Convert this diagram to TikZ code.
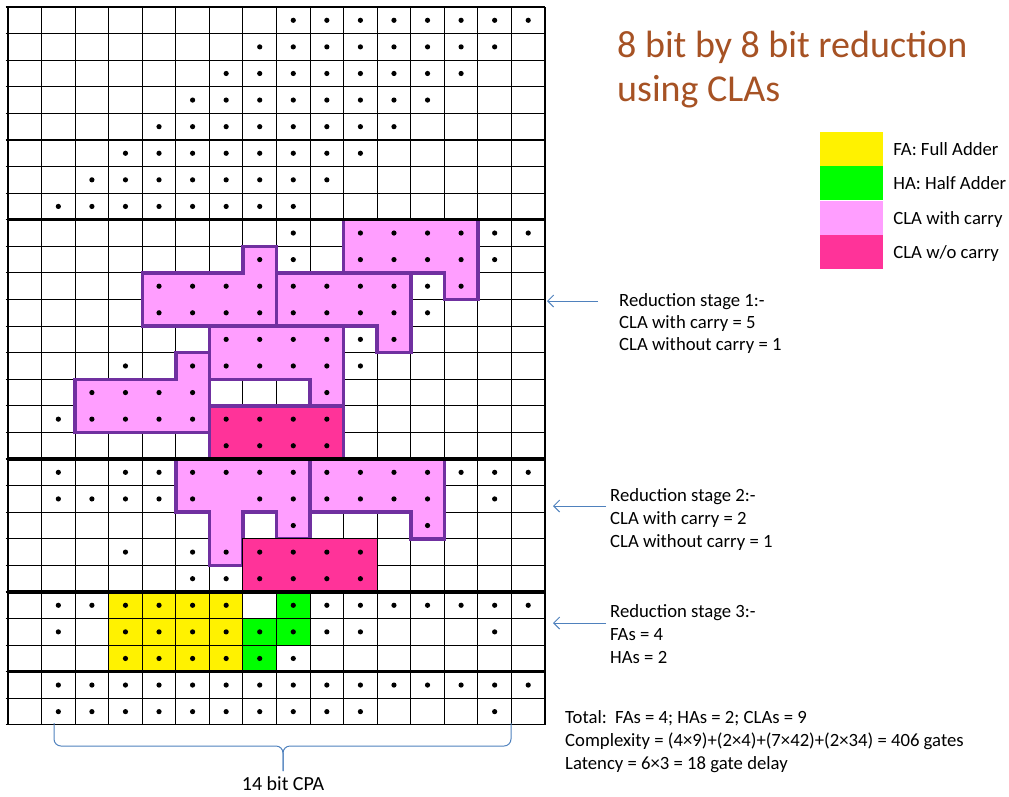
\documentclass[tikz,border=0pt]{standalone}
\usepackage{fontspec}
\setmainfont{Carlito}
\usetikzlibrary{arrows.meta, positioning}
\definecolor{claCarry}{RGB}{255,158,255}
\definecolor{claNoCarry}{RGB}{255,51,153}
\definecolor{claEdge}{RGB}{112,48,160}
\definecolor{titleBrown}{RGB}{166,82,36}
\definecolor{arrowBlue}{RGB}{79,129,189}
\tikzset{
  gridline/.style={line width=1.1pt},
  stageline/.style={line width=3.2pt},
  withcarry/.style={fill=claCarry, draw=claEdge, line width=3.5pt},
  nocarry/.style={fill=claNoCarry, draw=claEdge, line width=3.5pt},
  nocarryplain/.style={fill=claNoCarry, draw=black, line width=1.1pt},
  fa/.style={fill=yellow},
  ha/.style={fill=green},
  bit/.style={fill=black},
  legendbox/.style={minimum width=63pt, minimum height=34pt, inner sep=0pt, draw=none},
  note/.style={font=\fontsize{18.7}{22}\selectfont, anchor=west, inner sep=0pt, text height=13pt, text depth=4pt},
  heading/.style={font=\fontsize{38}{45}\selectfont, text=titleBrown, anchor=west, inner sep=0pt},
  stagearrow/.style={draw=arrowBlue, line width=1pt, -{Straight Barb[length=6pt,width=12pt]}},
  cpabrace/.style={draw=arrowBlue, line width=1pt, rounded corners=7pt},
}

\begin{document}
\begin{tikzpicture}[x=1pt, y=-1pt]
  \useasboundingbox (0,0) rectangle (1009,796);
  % dot diagram, one unit per cell
  \begin{scope}[shift={(8pt,-7pt)}, x=33.5625pt, y=-26.59pt]
    % FA and HA cells
    \fill[fa] (3,22) rectangle (7,25);
    \fill[ha] (7,23) rectangle (8,25);
    \fill[ha] (8,22) rectangle (9,24);
    % grid
    \foreach \c in {0,...,16}
      \draw[gridline] (\c,0) -- (\c,27);
    \foreach \r in {0,...,27}
      \draw[gridline] (-0.07,\r) -- (16,\r);
    % stage 1: CLAs
    \draw[withcarry] (10,8) -- (14,8) -- (14,11) -- (13,11) -- (13,10) -- (10,10) -- cycle;
    \draw[withcarry] (7,9) -- (8,9) -- (8,12) -- (4,12) -- (4,10) -- (7,10) -- cycle;
    \draw[withcarry] (8,10) -- (12,10) -- (12,13) -- (11,13) -- (11,12) -- (8,12) -- cycle;
    \draw[withcarry] (6,12) -- (10,12) -- (10,15) -- (9,15) -- (9,14) -- (6,14) -- cycle;
    \draw[withcarry] (5,13) -- (6,13) -- (6,16) -- (2,16) -- (2,14) -- (5,14) -- cycle;
    \draw[nocarry] (6,15) rectangle (10,17);
    % stage 2: CLAs
    \draw[withcarry] (5,17) -- (9,17) -- (9,20) -- (8,20) -- (8,19) -- (7,19) -- (7,21)
      -- (6,21) -- (6,19) -- (5,19) -- cycle;
    \draw[withcarry] (9,17) -- (13,17) -- (13,20) -- (12,20) -- (12,19) -- (9,19) -- cycle;
    \draw[nocarryplain] (7,20) rectangle (11,22);
    % stage borders
    \foreach \r in {8,17,22,25}
      \draw[stageline] (0,\r) -- (16,\r);
    % bits
    \foreach \r/\cols in {0/{8,...,15}, 1/{7,...,14}, 2/{6,...,13}, 3/{5,...,12},
        4/{4,...,11}, 5/{3,...,10}, 6/{2,...,9}, 7/{1,...,8},
        8/{8,10,11,12,13,14,15}, 9/{7,8,10,11,12,13,14}, 10/{4,...,13},
        11/{4,...,12}, 12/{6,...,11}, 13/{3,5,6,7,8,9,10}, 14/{2,3,4,5,9},
        15/{1,...,9}, 16/{6,...,9},
        17/{1,3,4,5,6,7,8,9,10,11,12,13,14,15}, 18/{1,2,3,4,5,7,8,9,10,11,12,14},
        19/{8,12}, 20/{3,5,6,7,8,9,10}, 21/{5,...,10},
        22/{1,2,3,4,5,6,8,9,10,11,12,13,14,15}, 23/{1,3,4,5,6,7,8,9,10,14},
        24/{3,...,8}, 25/{1,...,15}, 26/{1,2,3,4,5,6,7,8,9,10,14}}
      \foreach \c in \cols
        \fill[bit] (\c+0.5,\r+0.5) circle (2.6pt);
  \end{scope}

  % title
  \node[heading] (title1) at (617,47) {8 bit by 8 bit reduction};
  \node[heading] (title2) at (617,92) {using CLAs};

  % legend
  \node[legendbox, fill=yellow] (kfa) at (851.5,149) {};
  \node[legendbox, fill=green, below=0pt of kfa] (kha) {};
  \node[legendbox, fill=claCarry, below=0pt of kha] (kcc) {};
  \node[legendbox, fill=claNoCarry, below=0pt of kcc] (knc) {};
  \node[note, right=10pt of kfa, yshift=-2pt] (lfa) {FA: Full Adder};
  \node[note, right=10pt of kha, yshift=-2pt] (lha) {HA: Half Adder};
  \node[note, right=10pt of kcc, yshift=-2pt] (lcc) {CLA with carry};
  \node[note, right=10pt of knc, yshift=-2pt] (lnc) {CLA w/o carry};

  % stage notes
  \node[note] (st1a) at (619,302) {Reduction stage 1:-};
  \node[note] (st1b) at (619,324) {CLA with carry = 5};
  \node[note] (st1c) at (619,346) {CLA without carry = 1};
  \node[note] (st2a) at (610,497) {Reduction stage 2:-};
  \node[note] (st2b) at (610,520) {CLA with carry = 2};
  \node[note] (st2c) at (610,543) {CLA without carry = 1};
  \node[note] (st3a) at (610,613) {Reduction stage 3:-};
  \node[note] (st3b) at (610,636) {FAs = 4};
  \node[note] (st3c) at (610,659) {HAs = 2};
  \coordinate (s1tail) at (598,301);
  \coordinate (s1head) at (547,301);
  \coordinate (s2tail) at (606,506);
  \coordinate (s2head) at (553,506);
  \coordinate (s3tail) at (606,623);
  \coordinate (s3head) at (553,623);
  \draw[stagearrow] (s1tail) -- (s1head);
  \draw[stagearrow] (s2tail) -- (s2head);
  \draw[stagearrow] (s3tail) -- (s3head);

  % totals
  \node[note] (tot1) at (565,719) {Total:\ \ FAs = 4; HAs = 2; CLAs = 9};
  \node[note] (tot2) at (565,742) {Complexity = (4×9)+(2×4)+(7×42)+(2×34) = 406 gates};
  \node[note] (tot3) at (565,765) {Latency = 6×3 = 18 gate delay};

  % final adder
  \coordinate (cpaL) at (54,723);
  \coordinate (cpaR) at (511,723);
  \coordinate (cpaTip) at (283,771);
  \draw[cpabrace] (cpaL) -- (54,746) -- (283,746) -- (cpaTip);
  \draw[cpabrace] (cpaR) -- (511,746) -- (283,746) -- (cpaTip);
  \node[note, anchor=center, font=\fontsize{20}{24}\selectfont] (cpa) at (283,786) {14 bit CPA};
\end{tikzpicture}
\end{document}
